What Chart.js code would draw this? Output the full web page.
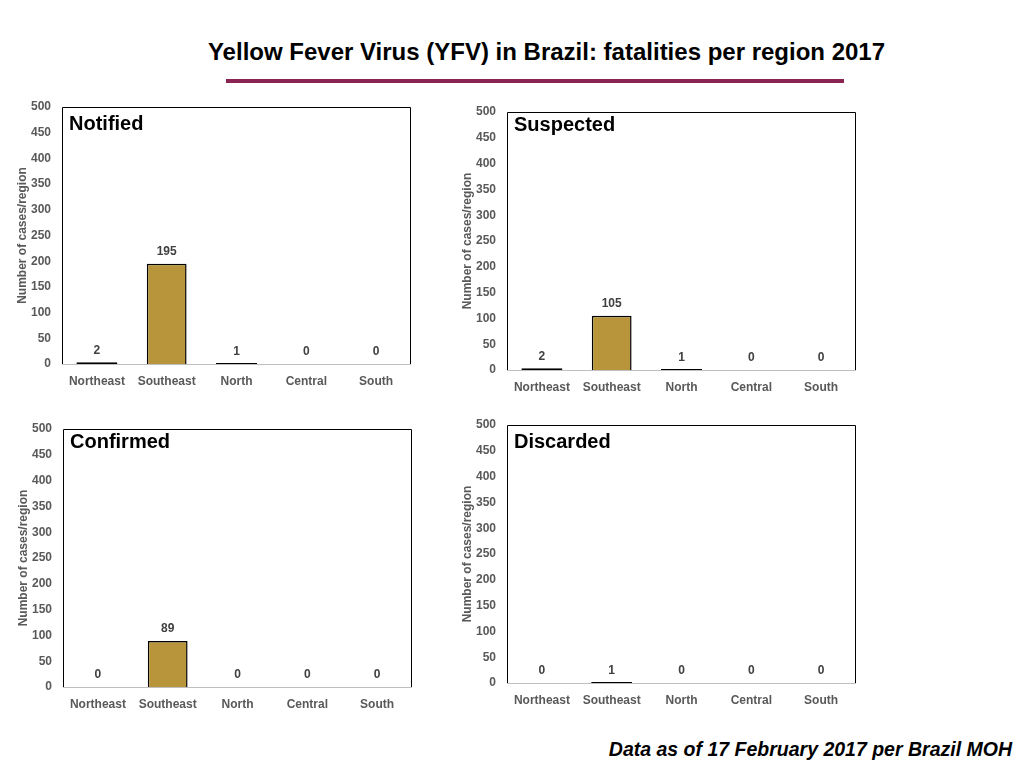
<!DOCTYPE html>
<html>
<head>
<meta charset="utf-8">
<script src="https://cdn.jsdelivr.net/npm/chart.js@4.4.1/dist/chart.umd.min.js"></script>
<style>
    html, body { margin: 0; padding: 0; background: #fff; }
    body { width: 1024px; height: 768px; position: relative; overflow: hidden; font-family: "Liberation Sans", Arial, sans-serif; }
    #pageTitle { position: absolute; left: 0; width: 1093px; top: 37px; text-align: center; font-weight: bold; font-size: 24px; line-height: 30px; color: #000; white-space: nowrap; }
    #titleRule { position: absolute; left: 226px; width: 618px; top: 79px; height: 4px; background: #8a2453; }
    #footNote { position: absolute; right: 12px; top: 737px; font-weight: bold; font-style: italic; font-size: 19.5px; line-height: 24px; color: #000; white-space: nowrap; }
    .panel { position: absolute; }
</style>
</head>
<body>
<div id="pageTitle">Yellow Fever Virus (YFV) in Brazil: fatalities per region 2017</div>
<div id="titleRule"></div>

<div class="panel" id="boxNotified"><canvas id="chartNotified"></canvas></div>
<div class="panel" id="boxSuspected"><canvas id="chartSuspected"></canvas></div>
<div class="panel" id="boxConfirmed"><canvas id="chartConfirmed"></canvas></div>
<div class="panel" id="boxDiscarded"><canvas id="chartDiscarded"></canvas></div>

<div id="footNote">Data as of 17 February 2017 per Brazil MOH</div>

<script>
    // Chart data
    const regions = ['Northeast', 'Southeast', 'North', 'Central', 'South'];
    const notified = [2, 195, 1, 0, 0];
    const suspected = [2, 105, 1, 0, 0];
    const confirmed = [0, 89, 0, 0, 0];
    const discarded = [0, 1, 0, 0, 0];
    const yMin = 0;
    const yMax = 500;
    const yStep = 50;

    const BAR_COLOR = '#b8943a';
    const TICK_COLOR = '#595959';
    const FONT = '"Liberation Sans", Arial, sans-serif';

    // space reserved round each plot area
    const AXIS_W = 62, PAD_TOP = 12, PAD_RIGHT = 14, AXIS_H = 36;

    // Frame, panel heading and value labels
    const panelDecor = {
        id: 'panelDecor',
        afterDatasetsDraw(chart, args, opts) {
            const ctx = chart.ctx;
            const a = chart.chartArea;
            ctx.save();
            ctx.lineWidth = 1;
            ctx.strokeStyle = '#000';
            ctx.beginPath();
            ctx.moveTo(a.left + 0.5, a.bottom);
            ctx.lineTo(a.left + 0.5, a.top + 0.5);
            ctx.lineTo(a.right - 0.5, a.top + 0.5);
            ctx.lineTo(a.right - 0.5, a.bottom);
            ctx.stroke();
            ctx.strokeStyle = '#bfbfbf';
            ctx.beginPath();
            ctx.moveTo(a.left, a.bottom + 0.5);
            ctx.lineTo(a.right, a.bottom + 0.5);
            ctx.stroke();

            ctx.fillStyle = '#000';
            ctx.font = 'bold 20px ' + FONT;
            ctx.textAlign = 'left';
            ctx.textBaseline = 'middle';
            ctx.fillText(opts.heading, a.left + 7, a.top + opts.headingOffset);

            ctx.fillStyle = '#404040';
            ctx.font = 'bold 12px ' + FONT;
            ctx.textAlign = 'center';
            const meta = chart.getDatasetMeta(0);
            const values = chart.data.datasets[0].data;
            meta.data.forEach(function(bar, i) {
                ctx.fillText(String(values[i]), bar.x, bar.y - 12);
            });
            ctx.restore();
        }
    };

    function makePanel(boxId, canvasId, heading, values, area, headingOffset) {
        const box = document.getElementById(boxId);
        box.style.left = (area.left - AXIS_W) + 'px';
        box.style.top = (area.top - PAD_TOP) + 'px';
        box.style.width = (area.right - area.left + AXIS_W + PAD_RIGHT) + 'px';
        box.style.height = (area.bottom - area.top + PAD_TOP + AXIS_H) + 'px';

        return new Chart(document.getElementById(canvasId), {
            type: 'bar',
            data: {
                labels: regions,
                datasets: [{
                    data: values,
                    // very short bars read as a black line in the original
                    backgroundColor: function(c) { return c.raw < 5 ? '#000' : BAR_COLOR; },
                    inflateAmount: function(c) { return c.raw < 5 ? 0.6 : 'auto'; },
                    borderColor: '#000',
                    borderWidth: 1.5,
                    borderSkipped: 'bottom',
                    categoryPercentage: 1,
                    barPercentage: 0.57
                }]
            },
            options: {
                responsive: true,
                maintainAspectRatio: false,
                animation: false,
                layout: { padding: { top: PAD_TOP, right: PAD_RIGHT, left: 0, bottom: 0 } },
                scales: {
                    x: {
                        grid: { display: false, drawTicks: false },
                        border: { display: false },
                        ticks: {
                            color: TICK_COLOR,
                            padding: 10,
                            maxRotation: 0,
                            font: { family: FONT, size: 12, weight: 'bold' }
                        },
                        afterFit: function(scale) { scale.height = AXIS_H; }
                    },
                    y: {
                        min: yMin,
                        max: yMax,
                        grid: { display: false, drawTicks: false },
                        border: { display: false },
                        ticks: {
                            stepSize: yStep,
                            color: TICK_COLOR,
                            padding: 11,
                            font: { family: FONT, size: 12, weight: 'bold' }
                        },
                        title: {
                            display: true,
                            text: 'Number of cases/region',
                            color: TICK_COLOR,
                            padding: { top: 15, bottom: 0 },
                            font: { family: FONT, size: 12, weight: 'bold' }
                        },
                        afterFit: function(scale) {
                            scale.width = AXIS_W;
                            // tick padding would otherwise push the plot top down
                            scale.paddingTop = 0;
                            scale.paddingBottom = 0;
                        }
                    }
                },
                plugins: {
                    legend: { display: false },
                    tooltip: { enabled: false },
                    panelDecor: { heading: heading, headingOffset: headingOffset }
                }
            },
            plugins: [panelDecor]
        });
    }

    makePanel('boxNotified', 'chartNotified', 'Notified', notified,
        { left: 62, top: 107, right: 411, bottom: 364 }, 17);
    makePanel('boxSuspected', 'chartSuspected', 'Suspected', suspected,
        { left: 507, top: 112, right: 856, bottom: 370 }, 13);
    makePanel('boxConfirmed', 'chartConfirmed', 'Confirmed', confirmed,
        { left: 63, top: 429, right: 412, bottom: 687 }, 13);
    makePanel('boxDiscarded', 'chartDiscarded', 'Discarded', discarded,
        { left: 507, top: 425, right: 856, bottom: 683 }, 17);
</script>
</body>
</html>
